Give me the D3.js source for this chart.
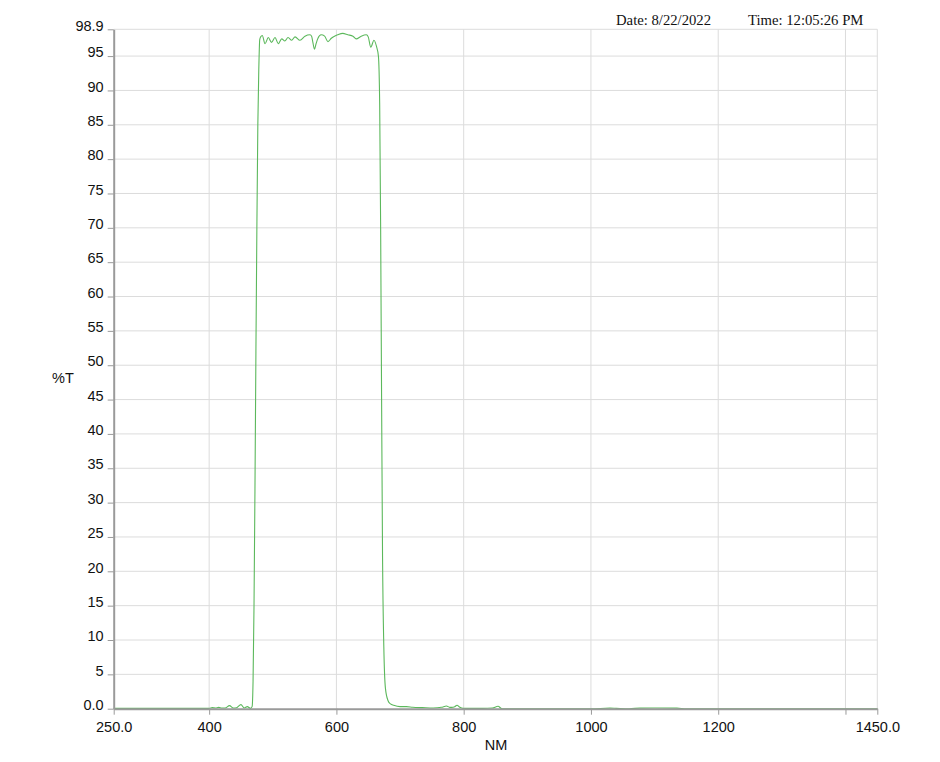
<!DOCTYPE html>
<meta charset="utf-8">
<style>
body { margin: 0; background: #fff; }
.grid line { stroke: #dcdcdc; stroke-width: 1px; }
.axis path, .axis line { stroke: #9a9a9a; }
.axis path { stroke-width: 2px; }
.axis text { font-family: "Liberation Sans", Arial, sans-serif; font-size: 14.5px; fill: #111; }
.stamp { font-family: "Liberation Serif", "Times New Roman", serif; font-size: 14.7px; fill: #111; }
.label { font-family: "Liberation Sans", Arial, sans-serif; font-size: 14.5px; fill: #111; }
</style>
<svg width="940" height="762"></svg>
<script src="https://d3js.org/d3.v7.min.js"></script>
<script>

// wavelength (nm) and transmission (%T)
var wavelength = [250, 300, 350, 400, 405, 410, 415, 420, 425, 432, 438, 443, 450, 455, 460, 465,
  467.5, 469, 470.5, 472, 473.5, 475, 476.5, 478, 479.5, 481, 483.5, 487.8, 493, 498, 503.5, 508.7,
  514, 519, 524, 529.7, 535, 542.7, 550.6, 558.5, 561, 563, 565.5, 568, 571, 576, 581.5, 586.7,
  592, 597, 602, 610, 618, 626, 631, 639, 647, 650, 654, 659, 663, 666, 668, 669.5, 671, 672.5,
  674.5, 677, 681, 685, 690, 700, 710, 720, 735, 752, 765, 773, 778, 781, 786, 789.5, 794, 799,
  815, 830, 845, 854, 860, 900, 1000, 1030, 1040, 1060, 1077, 1100, 1135, 1150, 1300, 1450];
var transmission = [0.05, 0.05, 0.05, 0.05, 0.15, 0.1, 0.2, 0.1, 0.1, 0.45, 0.1, 0.15, 0.6, 0.1, 0.3, 0.05,
  0.3, 4, 15, 32, 52, 70, 85, 93, 97.4, 97.8, 98.0, 96.8, 97.7, 97.0, 97.7, 96.8,
  97.5, 97.2, 97.7, 97.3, 97.8, 97.3, 97.9, 98.1, 97.9, 97.0, 96.0, 96.8, 97.6, 98.1, 97.9, 97.1,
  97.6, 97.9, 98.1, 98.3, 98.1, 97.9, 97.5, 97.9, 98.1, 97.8, 96.3, 97.3, 96.4, 95, 88, 70, 45, 22,
  9, 3, 1.2, 0.7, 0.5, 0.3, 0.3, 0.2, 0.15, 0.1, 0.2, 0.4, 0.2, 0.2, 0.3, 0.5, 0.2, 0.05,
  0.05, 0.05, 0.1, 0.35, 0.0, 0, 0, 0.08, 0.05, 0, 0.08, 0.1, 0.08, 0, 0, 0];

var xTicks = [250, 400, 600, 800, 1000, 1200, 1400, 1450];
var xTickLabels = ["250.0", "400", "600", "800", "1000", "1200", "", "1450.0"];
var yTicks = [0, 5, 10, 15, 20, 25, 30, 35, 40, 45, 50, 55, 60, 65, 70, 75, 80, 85, 90, 95, 98.9];
var yTickLabels = ["0.0", "5", "10", "15", "20", "25", "30", "35", "40", "45", "50", "55", "60",
  "65", "70", "75", "80", "85", "90", "95", "98.9"];

var svg = d3.select("svg");

var x = d3.scaleLinear().domain([250, 1450]).range([113.7, 877.3]);
var y = d3.scaleLinear().domain([0, 98.9]).range([708.7, 29.3]);

// grid
var grid = svg.append("g").attr("class", "grid");
grid.selectAll(".vx")
  .data(xTicks.slice(1))
  .enter().append("line")
    .attr("x1", d => x(d)).attr("x2", d => x(d))
    .attr("y1", y(0)).attr("y2", y(98.9));
grid.selectAll(".hy")
  .data(yTicks.slice(1))
  .enter().append("line")
    .attr("x1", x(250)).attr("x2", x(1450))
    .attr("y1", d => y(d)).attr("y2", d => y(d));

// the scan
var points = wavelength.map((w, i) => [w, transmission[i]]);
svg.append("path")
    .datum(points)
    .attr("fill", "none")
    .attr("stroke", "#5cb85c")
    .attr("stroke-width", 1.1)
    .attr("d", d3.line()
      .x(d => x(d[0]))
      .y(d => y(d[1]))
      .curve(d3.curveMonotoneX));

// axes
svg.append("g")
    .attr("class", "axis")
    .attr("transform", "translate(0," + y(0) + ")")
    .call(d3.axisBottom(x)
      .tickValues(xTicks)
      .tickFormat((d, i) => xTickLabels[i])
      .tickSize(6).tickSizeOuter(0).tickPadding(7))
  .selectAll("text").attr("dy", "0.71em");

svg.append("g")
    .attr("class", "axis")
    .attr("transform", "translate(" + x(250) + ",0)")
    .call(d3.axisLeft(y)
      .tickValues(yTicks)
      .tickFormat((d, i) => yTickLabels[i])
      .tickSize(6).tickSizeOuter(0).tickPadding(4))
  .selectAll("text").attr("dy", "0.05em");

// labels
svg.append("text").attr("class", "label")
    .attr("x", 52).attr("y", 383).text("%T");
svg.append("text").attr("class", "label")
    .attr("x", 496).attr("y", 750).attr("text-anchor", "middle").text("NM");

svg.append("text").attr("class", "stamp")
    .attr("x", 616).attr("y", 25).text("Date: 8/22/2022");
svg.append("text").attr("class", "stamp")
    .attr("x", 748).attr("y", 25).text("Time: 12:05:26 PM");

</script>
